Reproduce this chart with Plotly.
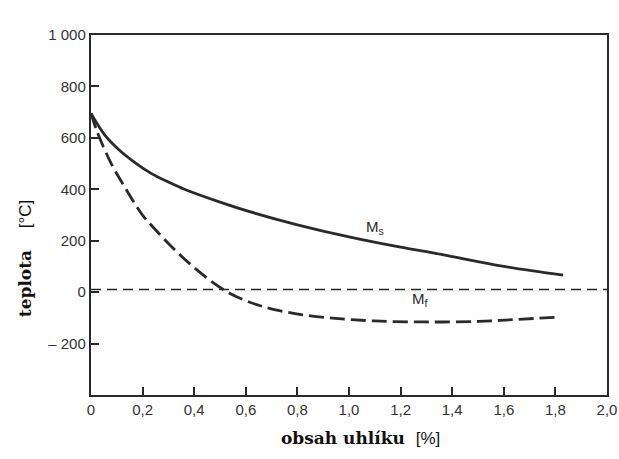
import plotly.graph_objects as go

# data
carbon_ms = [0.0, 0.053, 0.104, 0.169, 0.233, 0.3, 0.362, 0.5, 0.615, 0.8, 1.0, 1.2, 1.31, 1.4, 1.6, 1.83]
temp_ms = [695, 612, 558, 505, 462, 428, 400, 350, 313, 262, 215, 175, 156, 138, 100, 66]

carbon_mf = [0.0, 0.026, 0.078, 0.13, 0.195, 0.233, 0.345, 0.46, 0.537, 0.6, 0.653, 0.72, 0.808, 0.936,
             1.1, 1.3, 1.5, 1.65, 1.82]
temp_mf = [695, 618, 501, 410, 306, 261, 145, 47, -4, -33, -52, -70, -86, -101,
           -112, -116, -114, -106, -97]

ref_x = [0.0, 2.0]
ref_y = [10, 10]

x_tickvals = [0, 0.2, 0.4, 0.6, 0.8, 1.0, 1.2, 1.4, 1.6, 1.8, 2.0]
x_ticktext = ["0", "0,2", "0,4", "0,6", "0,8", "1,0", "1,2", "1,4", "1,6", "1,8", "2,0"]
y_tickvals = [-200, 0, 200, 400, 600, 800, 1000]
y_ticktext = ["– 200", "0", "200", "400", "600", "800", "1 000"]

ink = "#2a2a2a"

fig = go.Figure()
fig.add_trace(go.Scatter(x=ref_x, y=ref_y, mode="lines",
                         line=dict(color=ink, width=1.5, dash="10px,6px"),
                         showlegend=False, hoverinfo="skip"))
fig.add_trace(go.Scatter(x=carbon_ms, y=temp_ms, mode="lines", line_shape="spline",
                         line=dict(color=ink, width=2.8), showlegend=False))
fig.add_trace(go.Scatter(x=carbon_mf, y=temp_mf, mode="lines", line_shape="spline",
                         line=dict(color=ink, width=2.8, dash="15px,6px"), showlegend=False))

fig.add_annotation(x=1.10, y=250, text="M<sub>s</sub>", showarrow=False,
                   font=dict(family="Liberation Sans", size=15, color=ink))
fig.add_annotation(x=1.275, y=-28, text="M<sub>f</sub>", showarrow=False,
                   font=dict(family="Liberation Sans", size=15, color=ink))

# axis titles
fig.add_annotation(x=0.523, y=-0.119, xref="paper", yref="paper", showarrow=False,
                   yanchor="middle",
                   text="<b>obsah uhlíku</b>  <span style='font-family:Liberation Sans'>[%]</span>",
                   font=dict(family="DejaVu Serif", size=17, color="#111"))
fig.add_annotation(x=-0.128, y=0.38, xref="paper", yref="paper", showarrow=False, textangle=-90,
                   xanchor="center", yanchor="middle",
                   text="<b>teplota</b>    <span style='font-family:Liberation Sans'>[°C]</span>",
                   font=dict(family="DejaVu Serif", size=17, color="#111"))

fig.update_xaxes(range=[0, 2.0], tickvals=x_tickvals, ticktext=x_ticktext,
                 ticks="inside", ticklen=8, tickwidth=1.5, tickcolor=ink,
                 showline=True, mirror=True, linewidth=2.4, linecolor=ink,
                 showgrid=False, zeroline=False, automargin=False,
                 ticklabeloverflow="allow",
                 tickfont=dict(family="Liberation Sans", size=15, color="#333"))
fig.update_yaxes(range=[-400, 1000], tickvals=y_tickvals, ticktext=y_ticktext,
                 ticks="inside", ticklen=8, tickwidth=1.5, tickcolor=ink,
                 showline=True, mirror=True, linewidth=2.4, linecolor=ink,
                 showgrid=False, zeroline=False, automargin=False,
                 tickfont=dict(family="Liberation Sans", size=15, color="#333"))

fig.update_layout(width=619, height=459,
                  margin=dict(l=91, r=12, t=35, b=64),
                  plot_bgcolor="white", paper_bgcolor="white")

# remove the page's default body margin so the figure fills the window exactly
fig.write_html("out.html", config={"displayModeBar": False},
               post_script="document.body.style.margin='0';document.body.style.overflow='hidden';")
